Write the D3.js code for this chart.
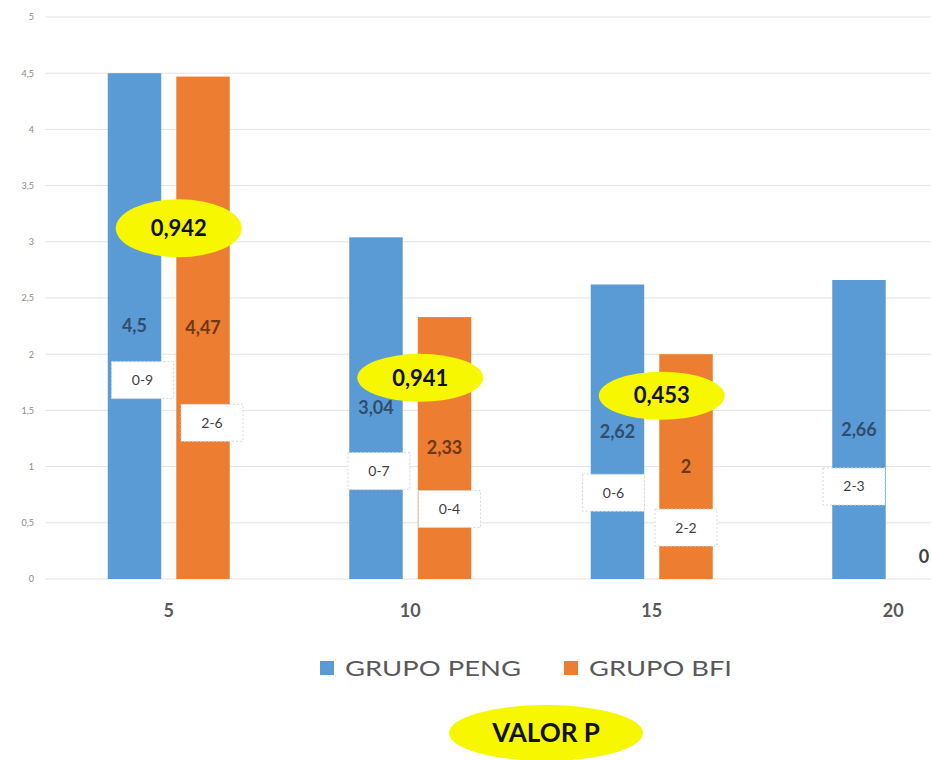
<!DOCTYPE html>
<html><head><meta charset="utf-8">
<script src="https://cdn.jsdelivr.net/npm/d3@7"></script>
<style>body{margin:0;background:#fff}svg{display:block}</style>
</head><body>
<svg id="c" width="931" height="760"></svg>
<script>
const categories = ["5", "10", "15", "20"];
const seriesNames = ["GRUPO PENG", "GRUPO BFI"];
const peng = [4.5, 3.04, 2.62, 2.66];
const bfi = [4.47, 2.33, 2, 0];
const pengRanges = ["0-9", "0-7", "0-6", "2-3"];
const bfiRanges = ["2-6", "0-4", "2-2", ""];
const pValues = ["0,942", "0,941", "0,453"];
const pValueLevel = [3.12, 1.79, 1.63];
const yTicks = [0, 0.5, 1, 1.5, 2, 2.5, 3, 3.5, 4, 4.5, 5];
const colors = ["#5b9bd5", "#ed7d31"];

const svg = d3.select("#c");
const fmt = v => String(v).replace(".", ",");

const y = d3.scaleLinear().domain([0, 5]).range([579, 17]);
const x0 = d3.scaleBand().domain(categories).range([48, 1014]).paddingInner(0).paddingOuter(0);
const x1 = d3.scaleBand().domain([0, 1]).range([0, 122]).paddingInner(0.22);
const groupOffset = (x0.bandwidth() - 122) / 2;

// gridlines
svg.append("g").selectAll("line").data(yTicks).join("line")
  .attr("x1", 45).attr("x2", 931)
  .attr("y1", d => y(d)).attr("y2", d => y(d))
  .attr("stroke", "#e3e3e3").attr("stroke-width", 1);

// y axis labels
const yAxis = d3.axisLeft(y).tickValues(yTicks).tickSize(0).tickPadding(0).tickFormat(fmt);
const ya = svg.append("g").attr("transform", "translate(34,0)").call(yAxis);
ya.select(".domain").remove();
ya.selectAll("text").attr("fill", "#8a8a8a").style("font-family", "Lato, sans-serif").style("font-size", "9px");

// x axis labels
const xAxis = d3.axisBottom(x0).tickSize(0).tickPadding(0);
const xa = svg.append("g").attr("transform", "translate(0,604)").call(xAxis);
xa.select(".domain").remove();
xa.selectAll("text").attr("fill", "#595959").style("font-family", "Lato, sans-serif")
  .style("font-size", "18px").style("font-weight", "bold");

const series = [peng, bfi];
const ranges = [pengRanges, bfiRanges];
const bars = [];
categories.forEach((c, i) => {
  series.forEach((s, j) => {
    bars.push({c, i, j, v: s[i], r: ranges[j][i]});
  });
});
const bx = d => x0(d.c) + groupOffset + x1(d.j);

svg.append("g").selectAll("rect").data(bars).join("rect")
  .attr("x", bx).attr("width", x1.bandwidth())
  .attr("y", d => y(d.v)).attr("height", d => y(0) - y(d.v))
  .attr("fill", d => colors[d.j]);

// value labels
svg.append("g").selectAll("text").data(bars).join("text")
  .attr("x", d => Math.min(bx(d) + x1.bandwidth() / 2, 924))
  .attr("y", d => d.v > 0 ? (y(d.v) + y(0)) / 2 : y(0) - 22)
  .attr("dy", "0.35em").attr("text-anchor", "middle")
  .attr("fill", d => d.v > 0 ? (d.j === 0 ? "#2f4e6e" : "#6e3814") : "#404040")
  .style("font-family", "Lato, sans-serif").style("font-size", "18px").style("font-weight", "bold")
  .text(d => fmt(d.v));

// range boxes
const rangeDy = [[54, 95], [63, 61], [61, 61], [57, 0]];
const rangeDx = [[8, 9], [3, 5], [-4, 0], [-5, 0]];
const rb = svg.append("g").selectAll("g").data(bars.filter(d => d.r)).join("g")
  .attr("transform", d => {
    const cx = bx(d) + x1.bandwidth() / 2 + rangeDx[d.i][d.j];
    const cy = (y(d.v) + y(0)) / 2 + rangeDy[d.i][d.j];
    return `translate(${cx},${cy})`;
  });
rb.append("rect").attr("x", -31).attr("y", -18.5).attr("width", 62).attr("height", 37)
  .attr("fill", "#fff").attr("stroke", "#d8d8d8").attr("stroke-width", 1).attr("stroke-dasharray", "2,2");
rb.append("text").attr("text-anchor", "middle").attr("dy", "0.35em")
  .attr("fill", "#404040").style("font-family", "Lato, sans-serif").style("font-size", "14px")
  .text(d => d.r);

// p-value ellipses
const pv = svg.append("g").selectAll("g").data(pValues).join("g")
  .attr("transform", (d, i) => `translate(${x0(categories[i]) + x0.bandwidth() / 2 + 10},${y(pValueLevel[i])})`);
pv.append("ellipse").attr("rx", 63).attr("ry", (d, i) => i === 0 ? 29 : 24).attr("fill", "#f7f700");
pv.append("text").attr("text-anchor", "middle").attr("dy", "0.35em")
  .attr("fill", "#111").style("font-family", "Lato, sans-serif").style("font-size", "22px").style("font-weight", "bold")
  .text(d => d);

// legend
const legX = [320, 564];
const legW = [176, 143];
const lg = svg.append("g").selectAll("g").data(seriesNames).join("g")
  .attr("transform", (d, i) => `translate(${legX[i]},668)`);
lg.append("rect").attr("x", 0).attr("y", -7).attr("width", 14).attr("height", 14).attr("fill", (d, i) => colors[i]);
lg.append("text").attr("x", 25).attr("dy", "0.35em").attr("fill", "#595959")
  .attr("textLength", (d, i) => legW[i]).attr("lengthAdjust", "spacingAndGlyphs")
  .style("font-family", "Lato, sans-serif").style("font-size", "22px").text(d => d);

// VALOR P
const vp = svg.append("g").attr("transform", "translate(546,733)");
vp.append("ellipse").attr("rx", 97).attr("ry", 28).attr("fill", "#f7f700");
vp.append("text").attr("text-anchor", "middle").attr("dy", "0.35em").attr("fill", "#111")
  .style("font-family", "Lato, sans-serif").style("font-size", "26px").style("font-weight", "bold").text("VALOR P");
</script>
</body></html>
